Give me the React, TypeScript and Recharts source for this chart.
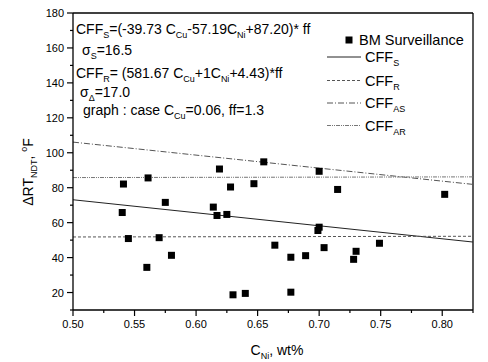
import React from "react";
import {
  ComposedChart,
  Line,
  ReferenceLine,
  Scatter,
  XAxis,
  YAxis,
} from "recharts";

const niContent = [
  0.541, 0.54, 0.545, 0.561, 0.56, 0.575, 0.57, 0.58, 0.614, 0.617, 0.619,
  0.625, 0.628, 0.63, 0.64, 0.647, 0.655, 0.664, 0.677, 0.677, 0.689, 0.7,
  0.7, 0.699, 0.704, 0.715, 0.728, 0.73, 0.749, 0.802,
];
const deltaRT = [
  82.1, 65.8, 50.9, 85.6, 34.4, 71.6, 51.4, 41.3, 68.9, 64.1, 90.7, 64.7,
  80.4, 18.7, 19.5, 82.3, 94.8, 47.1, 40.2, 20.2, 41.1, 89.4, 57.4, 55.5,
  45.7, 79.0, 39.0, 43.6, 48.2, 76.2,
];

const lineNi = [0.5, 0.825];
const cffS = [73.1, 48.9];
const cffR = [51.8, 52.2];
const cffAS = [106.1, 81.9];
const cffAR = [85.8, 86.2];

const xMajorTicks = [0.5, 0.55, 0.6, 0.65, 0.7, 0.75, 0.8];
const xMinorTicks = [0.525, 0.575, 0.625, 0.675, 0.725, 0.775, 0.825];
const yMajorTicks = [20, 40, 60, 80, 100, 120, 140, 160, 180];
const yMinorTicks = [10, 30, 50, 70, 90, 110, 130, 150, 170];

const FONT = "'Liberation Sans', Arial, sans-serif";

const points = niContent.map((x, i) => ({ x, y: deltaRT[i] }));
const toLine = (vals: number[]) => lineNi.map((x, i) => ({ x, y: vals[i] }));

const series = [
  { name: "S", data: toLine(cffS), stroke: "#222", dash: undefined, width: 1 },
  { name: "R", data: toLine(cffR), stroke: "#555", dash: "3 2", width: 1 },
  { name: "AS", data: toLine(cffAS), stroke: "#555", dash: "6 2 1 2", width: 1 },
  { name: "AR", data: toLine(cffAR), stroke: "#777", dash: "4 1 1 1 1 1", width: 1 },
];

const isMajor = (list: number[], v: number) =>
  list.some((t) => Math.abs(t - v) < 1e-9);

function XTick(props: any) {
  const { x, y, payload } = props;
  const major = isMajor(xMajorTicks, payload.value);
  return (
    <g>
      <line x1={x} x2={x} y1={y} y2={y + (major ? 6 : 3)} stroke="#000" strokeWidth={1.2} />
      {major && (
        <text x={x} y={y + 18} textAnchor="middle" fontSize={11} fontFamily={FONT} fill="#000">
          {payload.value.toFixed(2)}
        </text>
      )}
    </g>
  );
}

function YTick(props: any) {
  const { x, y, payload } = props;
  const major = isMajor(yMajorTicks, payload.value);
  return (
    <g>
      <line x1={x} x2={x - (major ? 6 : 3)} y1={y} y2={y} stroke="#000" strokeWidth={1.2} />
      {major && (
        <text x={x - 9} y={y + 4} textAnchor="end" fontSize={11} fontFamily={FONT} fill="#000">
          {payload.value}
        </text>
      )}
    </g>
  );
}

// "_" marks a subscript piece, "^" a superscript piece
function Rich({ parts, sub = 9 }: { parts: string[]; sub?: number }) {
  let shift = 0;
  return (
    <>
      {parts.map((p, i) => {
        let target = 0;
        let txt = p;
        if (p.startsWith("_")) {
          target = 4;
          txt = p.slice(1);
        } else if (p.startsWith("^")) {
          target = -6;
          txt = p.slice(1);
        }
        const dy = target - shift;
        shift = target;
        return (
          <tspan key={i} dy={dy} fontSize={target !== 0 ? sub : undefined}>
            {txt}
          </tspan>
        );
      })}
    </>
  );
}

const legendRows = [
  { label: "S", y: 57 },
  { label: "R", y: 80.5 },
  { label: "AS", y: 103 },
  { label: "AR", y: 125.5 },
];

function Overlay() {
  const t = { fontFamily: FONT, fontSize: 14, fill: "#000" };
  const lg = { fontFamily: FONT, fontSize: 14.5, fill: "#000" };
  return (
    <svg width={488} height={362} style={{ position: "absolute", left: 0, top: 0, pointerEvents: "none" }}>
      <text x={76} y={34} {...t}>
        <Rich parts={["CFF", "_S", "=(-39.73 C", "_Cu", "-57.19C", "_Ni", "+87.20)* ff"]} />
      </text>
      <text x={82} y={55} {...t}>
        <Rich parts={["σ", "_S", "=16.5"]} />
      </text>
      <text x={76} y={78} {...t}>
        <Rich parts={["CFF", "_R", "= (581.67 C", "_Cu", "+1C", "_Ni", "+4.43)*ff"]} />
      </text>
      <text x={80} y={96.5} {...t}>
        <Rich parts={["σ", "_Δ", "=17.0"]} />
      </text>
      <text x={83} y={115} {...t}>
        <Rich parts={["graph : case C", "_Cu", "=0.06, ff=1.3"]} />
      </text>

      <rect x={345.5} y={36.5} width={7} height={7} fill="#000" />
      <text x={359} y={45} {...lg}>BM Surveillance</text>
      {legendRows.map((r, i) => (
        <g key={r.label}>
          <line
            x1={327}
            x2={361}
            y1={r.y}
            y2={r.y}
            stroke={series[i].stroke}
            strokeDasharray={series[i].dash}
            strokeWidth={1}
          />
          <text x={365} y={r.y + 5} {...lg}>
            <Rich parts={["CFF", "_" + r.label]} />
          </text>
        </g>
      ))}

      <text x={277} y={355} textAnchor="middle" {...t}>
        <Rich parts={["C", "_Ni", ", wt%"]} />
      </text>
      <text x={33} y={172} textAnchor="middle" transform="rotate(-90 33 172)" {...t}>
        <Rich parts={["ΔRT", "_NDT", ", ", "^o", "F"]} />
      </text>
    </svg>
  );
}

export default function App() {
  const xTicks = [...xMajorTicks, ...xMinorTicks].sort((a, b) => a - b);
  const yTicks = [...yMajorTicks, ...yMinorTicks].sort((a, b) => a - b);
  return (
    <div style={{ position: "absolute", left: 0, top: 0, width: 488, height: 362, background: "#fff" }}>
      <ComposedChart
        width={488}
        height={362}
        margin={{ top: 13, right: 15, left: 0, bottom: 0 }}
      >
        <XAxis
          dataKey="x"
          type="number"
          domain={[0.5, 0.825]}
          ticks={xTicks}
          interval={0}
          height={52}
          tickSize={0}
          tickMargin={0}
          tickLine={false}
          tick={<XTick />}
          axisLine={{ stroke: "#000", strokeWidth: 1.3 }}
          allowDataOverflow
        />
        <YAxis
          type="number"
          domain={[10, 180]}
          ticks={yTicks}
          interval={0}
          width={73}
          tickSize={0}
          tickMargin={0}
          tickLine={false}
          tick={<YTick />}
          axisLine={{ stroke: "#000", strokeWidth: 1.3 }}
          allowDataOverflow
        />
        <ReferenceLine y={180} stroke="#000" strokeWidth={1.3} />
        <ReferenceLine x={0.825} stroke="#000" strokeWidth={1.3} />
        {series.map((s) => (
          <Line
            key={s.name}
            data={s.data}
            dataKey="y"
            type="linear"
            stroke={s.stroke}
            strokeWidth={s.width}
            strokeDasharray={s.dash}
            dot={false}
            activeDot={false}
            isAnimationActive={false}
          />
        ))}
        <Scatter
          data={points}
          dataKey="y"
          isAnimationActive={false}
          shape={(p: any) => (
            <rect x={p.cx - 3.5} y={p.cy - 3.5} width={7} height={7} fill="#000" />
          )}
        />
      </ComposedChart>
      <Overlay />
    </div>
  );
}
